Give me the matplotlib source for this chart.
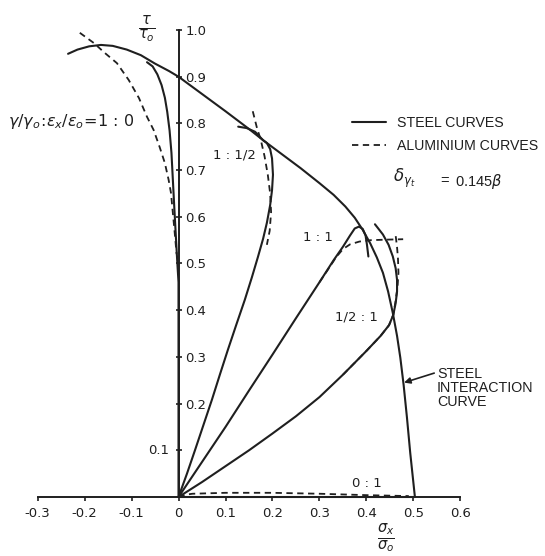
import matplotlib
matplotlib.use("Agg")
import matplotlib.pyplot as plt
from matplotlib.ticker import FixedLocator, FixedFormatter

plt.rcParams["font.family"] = ["Liberation Sans", "DejaVu Sans"]
plt.rcParams["mathtext.fontset"] = "dejavusans"

INK = "#1f1f1f"
NUM_FONT = "DejaVu Sans"

# Steel interaction curve (envelope), sigma_x/sigma_o vs tau/tau_o
env_x = [-0.235, -0.215, -0.190, -0.165, -0.140, -0.110, -0.080, -0.050, -0.020, 0.000,
         0.050, 0.100, 0.150, 0.180, 0.220, 0.260, 0.300, 0.330, 0.355, 0.375,
         0.392, 0.408, 0.422, 0.435, 0.446, 0.456, 0.465, 0.472, 0.479, 0.486,
         0.493, 0.503]
env_y = [0.949, 0.958, 0.965, 0.968, 0.966, 0.958, 0.946, 0.928, 0.912, 0.900,
         0.863, 0.826, 0.788, 0.764, 0.734, 0.704, 0.672, 0.647, 0.622, 0.598,
         0.572, 0.543, 0.513, 0.480, 0.440, 0.394, 0.345, 0.298, 0.240, 0.171,
         0.095, 0.000]

# gamma/gamma_o : eps_x/eps_o = 1 : 0
steel_10_x = [-0.067, -0.055, -0.045, -0.036, -0.029, -0.024, -0.019, -0.015, -0.012,
              -0.009, -0.006, -0.003, 0.0, 0.0]
steel_10_y = [0.931, 0.922, 0.905, 0.882, 0.855, 0.825, 0.785, 0.737, 0.679,
              0.621, 0.565, 0.510, 0.460, 0.0]
alu_10_x = [-0.210, -0.180, -0.157, -0.131, -0.106, -0.084, -0.067, -0.053, -0.040,
            -0.029, -0.021, -0.016, -0.012, -0.008, -0.004]
alu_10_y = [0.994, 0.972, 0.951, 0.929, 0.893, 0.854, 0.814, 0.786, 0.749,
            0.715, 0.679, 0.651, 0.608, 0.565, 0.520]

# 1 : 1/2
steel_12_x = [0.0, 0.018, 0.035, 0.053, 0.071, 0.088, 0.105, 0.123, 0.141, 0.156,
              0.169, 0.180, 0.188, 0.195, 0.199, 0.201, 0.199, 0.195, 0.188,
              0.180, 0.163, 0.145, 0.127]
steel_12_y = [0.0, 0.050, 0.100, 0.154, 0.208, 0.262, 0.315, 0.369, 0.422, 0.470,
              0.514, 0.553, 0.587, 0.625, 0.657, 0.690, 0.725, 0.745, 0.758,
              0.764, 0.782, 0.790, 0.793]
alu_12_x = [0.158, 0.167, 0.175, 0.183, 0.190, 0.195, 0.197, 0.194, 0.188]
alu_12_y = [0.826, 0.790, 0.765, 0.730, 0.690, 0.650, 0.610, 0.570, 0.540]

# 1 : 1
steel_11_x = [0.0, 0.050, 0.100, 0.150, 0.200, 0.250, 0.300, 0.330, 0.350, 0.365,
              0.375, 0.384, 0.392, 0.398, 0.401, 0.404]
steel_11_y = [0.0, 0.075, 0.150, 0.228, 0.305, 0.383, 0.460, 0.507, 0.536, 0.560,
              0.575, 0.579, 0.574, 0.560, 0.540, 0.515]
alu_11_x = [0.300, 0.320, 0.335, 0.350, 0.365, 0.385, 0.410, 0.440, 0.478]
alu_11_y = [0.460, 0.490, 0.513, 0.531, 0.541, 0.547, 0.550, 0.551, 0.552]

# 1/2 : 1
steel_21_x = [0.0, 0.050, 0.100, 0.150, 0.200, 0.250, 0.300, 0.350, 0.400, 0.430,
              0.448, 0.457, 0.462, 0.465, 0.465, 0.462, 0.456, 0.447, 0.435,
              0.425, 0.418]
steel_21_y = [0.0, 0.032, 0.066, 0.100, 0.136, 0.173, 0.214, 0.262, 0.313, 0.345,
              0.368, 0.390, 0.415, 0.440, 0.465, 0.490, 0.515, 0.540, 0.562,
              0.575, 0.584]
alu_21_x = [0.350, 0.400, 0.430, 0.448, 0.457, 0.462, 0.466, 0.468, 0.467, 0.465, 0.462]
alu_21_y = [0.262, 0.313, 0.345, 0.368, 0.390, 0.420, 0.450, 0.480, 0.510, 0.535, 0.560]

# 0 : 1
steel_01_x = [0.0, 0.503]
steel_01_y = [0.0, 0.0]
alu_01_x = [0.0, 0.015, 0.030, 0.100, 0.200, 0.300, 0.400, 0.490]
alu_01_y = [0.0, 0.005, 0.007, 0.009, 0.009, 0.007, 0.004, 0.002]

x_ticks = [-0.3, -0.2, -0.1, 0.0, 0.1, 0.2, 0.3, 0.4, 0.5, 0.6]
x_tick_labels = ["-0.3", "-0.2", "-0.1", "0", "0.1", "0.2", "0.3", "0.4", "0.5", "0.6"]
y_ticks = [0.1, 0.2, 0.3, 0.4, 0.5, 0.6, 0.7, 0.8, 0.9, 1.0]
y_tick_labels = ["", "0.2", "0.3", "0.4", "0.5", "0.6", "0.7", "0.8", "0.9", "1.0"]

fig = plt.figure(figsize=(5.45, 5.56), dpi=100)
ax = fig.add_axes([0, 0, 1, 1])
ax.set_xlim(-0.3798, 0.7798)
ax.set_ylim(-0.1263, 1.0642)

solid = dict(color=INK, lw=1.5, solid_capstyle="round", solid_joinstyle="round")
dashed = dict(color=INK, lw=1.3, linestyle=(0, (3.5, 2.5)))

steel_line, = ax.plot(env_x, env_y, **solid)
for xs, ys in [(steel_10_x, steel_10_y), (steel_12_x, steel_12_y),
               (steel_11_x, steel_11_y), (steel_21_x, steel_21_y),
               (steel_01_x, steel_01_y)]:
    ax.plot(xs, ys, **solid)
alu_line, = ax.plot(alu_10_x, alu_10_y, **dashed)
for xs, ys in [(alu_12_x, alu_12_y), (alu_11_x, alu_11_y),
               (alu_21_x, alu_21_y), (alu_01_x, alu_01_y)]:
    ax.plot(xs, ys, **dashed)

# axes crossing at the origin
for side in ["top", "left"]:
    ax.spines[side].set_visible(False)
ax.spines["bottom"].set_position(("data", 0))
ax.spines["bottom"].set_bounds(-0.3, 0.6)
ax.spines["right"].set_position(("data", 0))
ax.spines["right"].set_bounds(0, 1.0)
for side in ["bottom", "right"]:
    ax.spines[side].set_color(INK)
    ax.spines[side].set_linewidth(1.4)

ax.xaxis.set_major_locator(FixedLocator(x_ticks))
ax.xaxis.set_major_formatter(FixedFormatter(x_tick_labels))
ax.yaxis.set_ticks_position("right")
ax.yaxis.set_major_locator(FixedLocator(y_ticks))
ax.yaxis.set_major_formatter(FixedFormatter(y_tick_labels))
ax.tick_params(axis="x", direction="out", length=3, width=1.2, pad=4.5,
               labelsize=9.5, colors=INK)
ax.tick_params(axis="y", direction="inout", length=4.5, width=1.2, pad=2.5,
               labelsize=9.5, colors=INK)
for lbl in ax.get_xticklabels() + ax.get_yticklabels():
    lbl.set_fontfamily(NUM_FONT)
ax.text(-0.02, 0.1, "0.1", ha="right", va="center", fontsize=9.5, color=INK,
        family=NUM_FONT)

ax.text(-0.067, 1.0, r"$\frac{\tau}{\tau_o}$", ha="center", va="center",
        fontsize=15, color=INK)
ax.text(0.442, -0.088, r"$\frac{\sigma_x}{\sigma_o}$", ha="center", va="center",
        fontsize=15, color=INK)

# strain ratio labels
txt = dict(fontsize=9.5, color=INK, va="center", ha="left", family=NUM_FONT)
ax.text(-0.362, 0.805, r"$\gamma/\gamma_o\!:\!\epsilon_x/\epsilon_o\!=\!$1 : 0",
        fontsize=11.5, color=INK, va="center", ha="left", family=NUM_FONT)
ax.text(0.073, 0.732, "1 : 1/2", **txt)
ax.text(0.265, 0.555, "1 : 1", **txt)
ax.text(0.333, 0.385, "1/2 : 1", **txt)
ax.text(0.369, 0.030, "0 : 1", **txt)

# yield deflection note: symbol, equals sign and value set as separate pieces
ax.text(0.456, 0.683, r"$\delta_{\gamma_t}$", fontsize=12, color=INK,
        va="center", ha="left")
ax.text(0.556, 0.677, "=", fontsize=10.5, color=INK, va="center", ha="left")
ax.text(0.589, 0.676, r"0.145$\beta$", fontsize=10.5, color=INK,
        va="center", ha="left")

ax.annotate("STEEL\nINTERACTION\nCURVE", xy=(0.48, 0.245), xytext=(0.55, 0.278),
            fontsize=10.3, color=INK, ha="left", va="top", linespacing=1.0,
            arrowprops=dict(arrowstyle="-|>", color=INK, lw=1.2,
                            mutation_scale=9, shrinkA=0, shrinkB=0,
                            relpos=(0, 0.88)))

ax.legend([steel_line, alu_line], ["STEEL CURVES", "ALUMINIUM CURVES"],
          loc="upper left", bbox_to_anchor=(0.646, 0.792), frameon=False,
          borderpad=0, borderaxespad=0, handlelength=2.4, handletextpad=0.75,
          labelspacing=0.66, fontsize=10.2, labelcolor=INK)

fig.savefig("out.png", dpi=100, facecolor="white")
